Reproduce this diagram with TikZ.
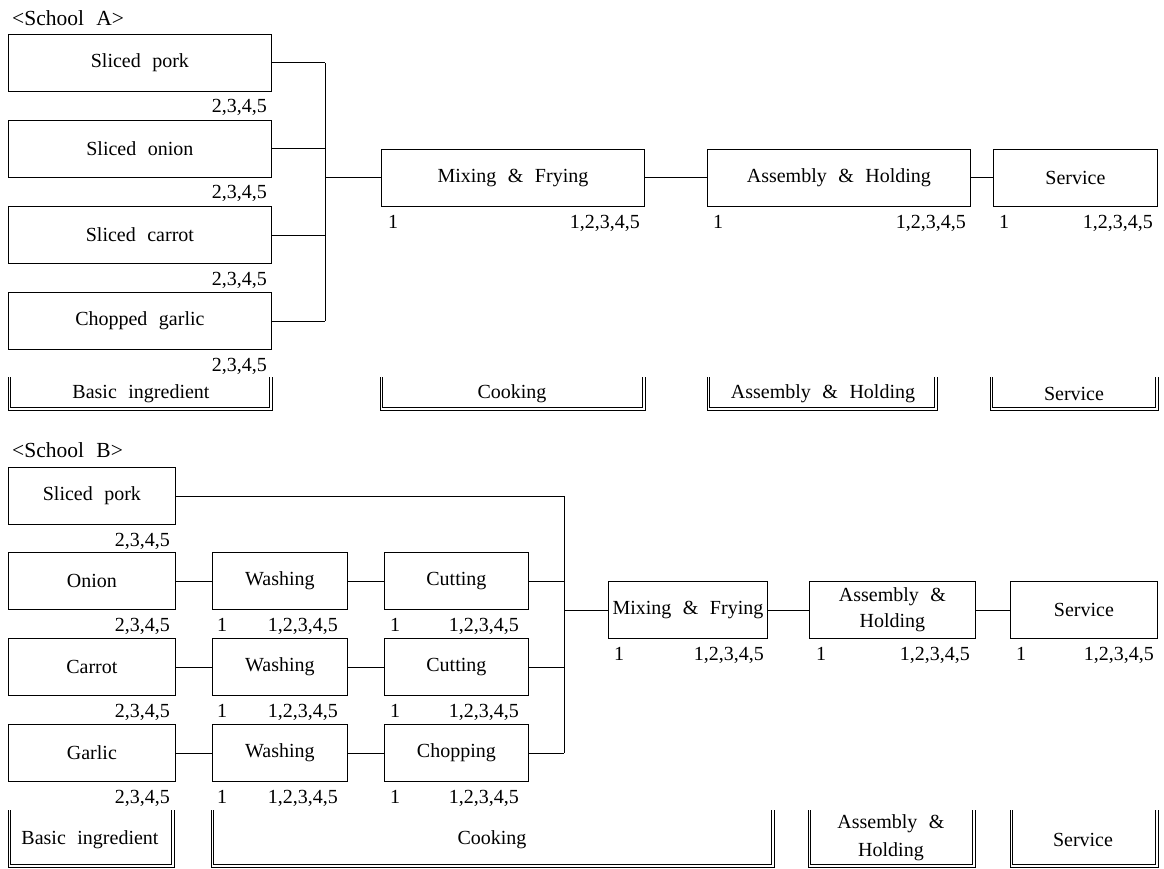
\documentclass[tikz,border=0pt]{standalone}
\usepackage{fontspec}
\setmainfont[WordSpace=2.3]{Liberation Serif}
\newcommand\mybracket[4]{% x1, x2, top, bottom
  \draw[brk] (#1,#3) -- (#1,#4) -- (#2,#4) -- (#2,#3);
  \draw[brk] ({#1+2.2},#3) -- ({#1+2.2},{#4-2.2}) -- ({#2-2.2},{#4-2.2}) -- ({#2-2.2},#3);}
\begin{document}
\begin{tikzpicture}[x=1pt,y=-1pt,
  every node/.style={font=\fontsize{20}{25}\selectfont, inner sep=0pt},
  bx/.style={draw, line width=0.8pt, minimum height=57pt, anchor=north west, align=center},
  lab/.style={anchor=base west},
  labr/.style={anchor=base east},
  con/.style={line width=0.8pt},
  head/.style={anchor=west, font=\fontsize{21.5}{25}\selectfont},
  brk/.style={line width=0.7pt, line join=miter}]
\useasboundingbox (0,0) rectangle (1164,869);

% ---------------- School A ----------------
\node[head] (tA) at (12,18) {<School A>};
\node[bx, minimum width=263pt] (a1) at (8,34) {Sliced pork};
\node[labr] (a1l) at (267,113) {2,3,4,5};
\node[bx, minimum width=263pt] (a2) at (8,120) {Sliced onion};
\node[labr] (a2l) at (267,199) {2,3,4,5};
\node[bx, minimum width=263pt] (a3) at (8,206) {Sliced carrot};
\node[labr] (a3l) at (267,285) {2,3,4,5};
\node[bx, minimum width=263pt] (a4) at (8,292) {Chopped garlic};
\node[labr] (a4l) at (267,371) {2,3,4,5};

\coordinate (jA) at (325,0);
\node[bx, minimum width=263pt] (mA) at (381,149) {Mixing \& Frying};
\node[lab] (mAl) at (388,228) {1};
\node[labr] (mAr) at (640,228) {1,2,3,4,5};
\node[bx, minimum width=263pt] (hA) at (707,149) {Assembly \& Holding};
\node[lab] (hAl) at (713,228) {1};
\node[labr] (hAr) at (966,228) {1,2,3,4,5};
\node[bx, minimum width=164pt] (sA) at (993,149) {Service};
\node[lab] (sAl) at (999,228) {1};
\node[labr] (sAr) at (1153,228) {1,2,3,4,5};

\foreach \n in {a1,a2,a3,a4} \draw[con] (\n.east) -- (\n.east -| jA);
\draw[con] (a1.east -| jA) -- (a4.east -| jA);
\draw[con] (mA.west -| jA) -- (mA.west);
\draw[con] (mA.east) -- (hA.west);
\draw[con] (hA.east) -- (sA.west);

\mybracket{8}{272}{377}{410}
\node (kA1) at (141,394) {Basic ingredient};
\mybracket{380}{645}{377}{410}
\node (kA2) at (512,394) {Cooking};
\mybracket{707}{937}{377}{410}
\node (kA3) at (823,394) {Assembly \& Holding};
\mybracket{990}{1158}{377}{410}
\node (kA4) at (1074,394) {Service};

% ---------------- School B ----------------
\node[head] (tB) at (12,450) {<School B>};
\node[bx, minimum width=167pt] (b1) at (8,467) {Sliced pork};
\node[labr] (b1l) at (170,546) {2,3,4,5};

\node[bx, minimum width=167pt] (b2) at (8,552) {Onion};
\node[labr] (b2l) at (170,631) {2,3,4,5};
\node[bx, minimum width=135pt] (w1) at (212,552) {Washing};
\node[lab] (w1l) at (217,631) {1};
\node[labr] (w1r) at (338,631) {1,2,3,4,5};
\node[bx, minimum width=144pt] (c1) at (384,552) {Cutting};
\node[lab] (c1l) at (390,631) {1};
\node[labr] (c1r) at (519,631) {1,2,3,4,5};

\node[bx, minimum width=167pt] (b3) at (8,638) {Carrot};
\node[labr] (b3l) at (170,717) {2,3,4,5};
\node[bx, minimum width=135pt] (w2) at (212,638) {Washing};
\node[lab] (w2l) at (217,717) {1};
\node[labr] (w2r) at (338,717) {1,2,3,4,5};
\node[bx, minimum width=144pt] (c2) at (384,638) {Cutting};
\node[lab] (c2l) at (390,717) {1};
\node[labr] (c2r) at (519,717) {1,2,3,4,5};

\node[bx, minimum width=167pt] (b4) at (8,724) {Garlic};
\node[labr] (b4l) at (170,803) {2,3,4,5};
\node[bx, minimum width=135pt] (w3) at (212,724) {Washing};
\node[lab] (w3l) at (217,803) {1};
\node[labr] (w3r) at (338,803) {1,2,3,4,5};
\node[bx, minimum width=144pt] (c3) at (384,724) {Chopping};
\node[lab] (c3l) at (390,803) {1};
\node[labr] (c3r) at (519,803) {1,2,3,4,5};

\coordinate (jB) at (564,0);
\node[bx, minimum width=159pt] (mB) at (608,581) {Mixing \& Frying};
\node[lab] (mBl) at (614,660) {1};
\node[labr] (mBr) at (764,660) {1,2,3,4,5};
\node[bx, minimum width=166pt, font=\fontsize{20}{26}\selectfont] (hB) at (809,581) {Assembly \&\\Holding};
\node[lab] (hBl) at (816,660) {1};
\node[labr] (hBr) at (970,660) {1,2,3,4,5};
\node[bx, minimum width=147pt] (sB) at (1010,581) {Service};
\node[lab] (sBl) at (1016,660) {1};
\node[labr] (sBr) at (1154,660) {1,2,3,4,5};

\draw[con] (b1.east) -- (b1.east -| jB);
\draw[con] (b1.east -| jB) -- (c3.east -| jB);
\foreach \a/\b/\c in {b2/w1/c1,b3/w2/c2,b4/w3/c3} {
  \draw[con] (\a.east) -- (\b.west);
  \draw[con] (\b.east) -- (\c.west);
  \draw[con] (\c.east) -- (\c.east -| jB);
}
\draw[con] (mB.west -| jB) -- (mB.west);
\draw[con] (mB.east) -- (hB.west);
\draw[con] (hB.east) -- (sB.west);

\mybracket{8}{174}{810}{867}
\node (kB1) at (90,840) {Basic ingredient};
\mybracket{211}{774}{810}{867}
\node (kB2) at (492,840) {Cooking};
\mybracket{808}{975}{810}{867}
\node[align=center, font=\fontsize{20}{28}\selectfont] (kB3) at (891,838) {Assembly \&\\Holding};
\mybracket{1010}{1158}{810}{867}
\node (kB4) at (1083,840) {Service};
\end{tikzpicture}
\end{document}
